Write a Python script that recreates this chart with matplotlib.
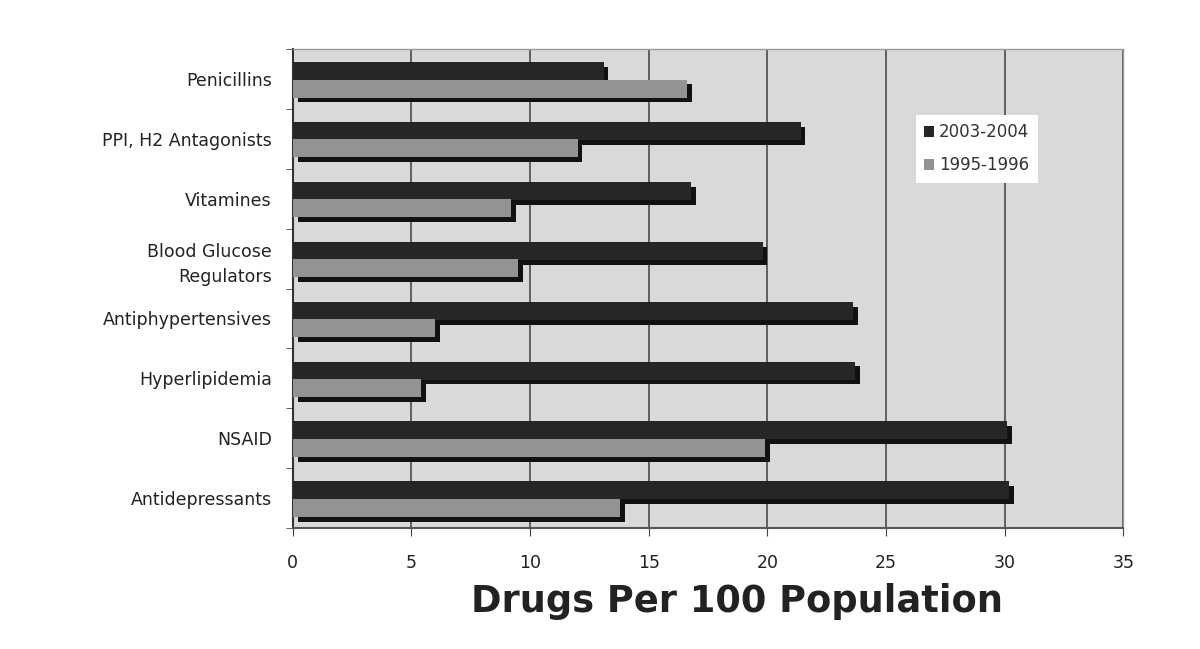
import numpy as np
import matplotlib
matplotlib.use('Agg')
import matplotlib.pyplot as plt
import matplotlib.patheffects as pe
from matplotlib.patches import Patch

# data (top to bottom)
categories = ['Penicillins', 'PPI, H2 Antagonists', 'Vitamines',
              'Blood Glucose\nRegulators', 'Antiphypertensives',
              'Hyperlipidemia', 'NSAID', 'Antidepressants']
vals_2003 = [13.1, 21.4, 16.8, 19.8, 23.6, 23.7, 30.1, 30.2]
vals_1995 = [16.6, 12.0, 9.2, 9.5, 6.0, 5.4, 19.9, 13.8]
series_names = ['2003-2004', '1995-1996']
xticks = [0, 5, 10, 15, 20, 25, 30, 35]

c_dark = '#262626'
c_grey = '#939393'

fig = plt.figure(figsize=(12, 6.49), dpi=100)
ax = fig.add_axes([0.244, 0.1864, 0.692, 0.738])
ax.set_facecolor('#d9d9d9')

n = len(categories)
y = np.arange(n)[::-1].astype(float)
h = 0.3
shadow = [pe.SimplePatchShadow(offset=(3.5, -3.5), shadow_rgbFace='#111111', alpha=1), pe.Normal()]

ax.barh(y + 0.13, vals_2003, height=h, color=c_dark, zorder=3, path_effects=shadow)
ax.barh(y - 0.16, vals_1995, height=h, color=c_grey, zorder=4, path_effects=shadow)

ax.set_xlim(0, 35)
ax.set_ylim(-0.5, n - 0.5)
ax.set_xticks(xticks)
ax.set_xticklabels([str(t) for t in xticks], fontsize=12.5, color='#222222')
ax.set_yticks(y)
ax.set_yticklabels(categories, fontsize=12.5, color='#222222', linespacing=1.5)
ax.tick_params(axis='y', length=0, pad=15)
ax.set_yticks(np.arange(n + 1) - 0.5, minor=True)
ax.tick_params(axis='y', which='minor', length=5, color='#444444')
ax.tick_params(axis='x', length=6, color='#444444', pad=13)

ax.xaxis.grid(True, color='#555555', linewidth=1.3, zorder=1)
ax.set_axisbelow(True)
for s in ['top', 'right']:
    ax.spines[s].set_color('#999999')
    ax.spines[s].set_linewidth(1.0)
ax.spines['left'].set_color('#333333')
ax.spines['left'].set_linewidth(1.5)
ax.spines['bottom'].set_color('#555555')
ax.spines['bottom'].set_linewidth(1.5)

ax.set_xlabel('Drugs Per 100 Population', fontsize=26.5, fontweight='bold',
              color='#222222')
ax.xaxis.set_label_coords(0.535, -0.115)

handles = [Patch(facecolor=c_dark), Patch(facecolor=c_grey)]
leg = ax.legend(handles, series_names, loc='upper left', bbox_to_anchor=(0.74, 0.88),
                fontsize=12, frameon=True, fancybox=False, edgecolor='none',
                handlelength=0.6, handleheight=0.6, handletextpad=0.3,
                labelspacing=0.9, borderpad=0.5, labelcolor='#333333')
leg.get_frame().set_facecolor('white')
leg.get_frame().set_alpha(1)
leg.set_zorder(5)

fig.savefig('out.png', dpi=100, facecolor='white')
